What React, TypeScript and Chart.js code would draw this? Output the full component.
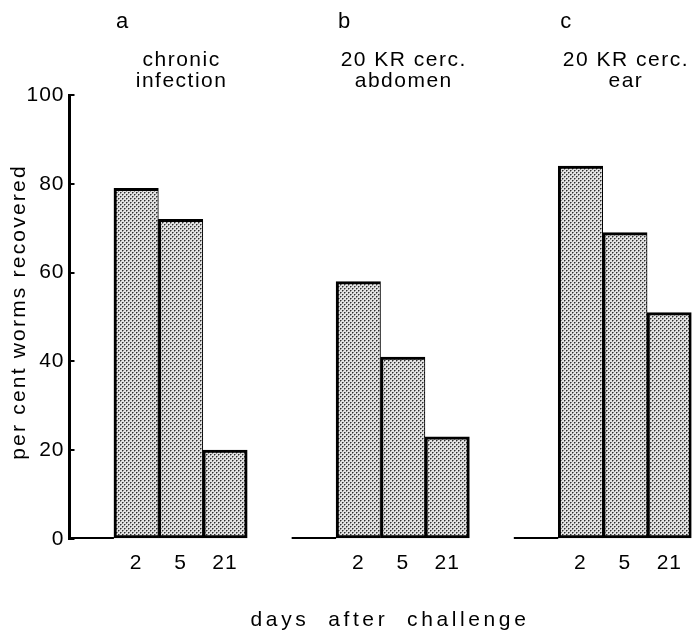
import { useEffect, useRef } from 'react';
import { Chart, registerables } from 'chart.js';

Chart.register(...registerables);

// ---- data ----
const dayLabels = ['2', '5', '21'];
const groupLetters = ['a', 'b', 'c'];
const groupTitles = [
  ['chronic', 'infection'],
  ['20 KR cerc.', 'abdomen'],
  ['20 KR cerc.', 'ear'],
];
const chronicInfection = [79, 72, 20];
const abdomen20KR = [58, 41, 23];
const ear20KR = [84, 69, 51];
const seriesByGroup = [chronicInfection, abdomen20KR, ear20KR];
const yTicks = [0, 20, 40, 60, 80, 100];
const yTitle = 'per cent worms recovered';
const xTitle = 'days  after  challenge';

// ---- layout (slot units on the x axis) ----
const GROUP_START = [1, 6, 11];
const X_MAX = 14;
const FONT = '"Liberation Sans", Arial, Helvetica, sans-serif';

export default function App() {
  const ref = useRef<HTMLCanvasElement>(null);

  useEffect(() => {
    const canvas = ref.current!;
    const tile = document.createElement('canvas');
    tile.width = 4;
    tile.height = 4;
    const t = tile.getContext('2d')!;
    t.fillStyle = '#e2e2e2';
    t.fillRect(0, 0, 4, 4);
    t.fillStyle = '#2e2e2e';
    t.fillRect(0, 0, 1, 1);
    t.fillRect(2, 2, 1, 1);
    t.fillStyle = '#8a8a8a';
    t.fillRect(1, 0, 1, 1);
    t.fillRect(3, 2, 1, 1);
    t.fillRect(0, 1, 1, 1);
    t.fillRect(2, 3, 1, 1);
    const pattern = canvas.getContext('2d')!.createPattern(tile, 'repeat')!;

    const barPoints = seriesByGroup.flatMap((vals, g) =>
      vals.map((v, i) => ({ x: GROUP_START[g] + 0.5 + i, y: v }))
    );
    const baselinePoints: any[] = GROUP_START.flatMap((s) => [
      { x: s - 1, y: 0 },
      { x: s, y: 0 },
      { x: s, y: null },
    ]);
    const xTickValues = GROUP_START.flatMap((s) => dayLabels.map((_, i) => s + 0.5 + i));

    const textPlugin = {
      id: 'annotText',
      beforeDraw(chart: any) {
        (chart.ctx as any).letterSpacing = '1px';
      },
      afterDraw(chart: any) {
        const c = chart.ctx as any;
        const xs = chart.scales.x;
        c.save();
        c.fillStyle = '#000';
        c.textBaseline = 'alphabetic';
        c.font = `22px ${FONT}`;
        c.letterSpacing = '0px';
        c.textAlign = 'left';
        GROUP_START.forEach((s, g) => {
          c.fillText(groupLetters[g], xs.getPixelForValue(s) + 2, 28);
        });
        c.font = `21px ${FONT}`;
        c.letterSpacing = '1.5px';
        c.textAlign = 'center';
        GROUP_START.forEach((s, g) => {
          const cx = xs.getPixelForValue(s + 1.5);
          groupTitles[g].forEach((line, k) => c.fillText(line, cx + 1, 66 + k * 21));
        });
        c.save();
        c.translate(25, 312);
        c.rotate(-Math.PI / 2);
        c.font = `21px ${FONT}`;
        c.letterSpacing = '2.2px';
        c.textAlign = 'center';
        c.fillText(yTitle, 0, 0);
        c.restore();
        c.font = `21px ${FONT}`;
        c.letterSpacing = '3.6px';
        c.textAlign = 'center';
        c.fillText(xTitle, 390, 626);
        c.restore();
      },
    };

    const chart = new Chart(canvas, {
      type: 'bar',
      data: {
        datasets: [
          {
            type: 'bar',
            data: barPoints as any,
            backgroundColor: pattern as any,
            borderColor: '#000',
            borderWidth: ((ctx: any) => ({
              top: 3,
              bottom: 3,
              left: 3,
              right: ctx.dataIndex % 3 === 2 ? 3 : 1,
            })) as any,
            borderSkipped: false,
            barPercentage: 1,
            categoryPercentage: 1,
            order: 1,
          } as any,
          {
            type: 'line',
            data: baselinePoints,
            borderColor: '#000',
            borderWidth: 4,
            pointRadius: 0,
            spanGaps: false,
            order: 0,
          } as any,
        ],
      },
      options: {
        animation: false,
        responsive: false,
        events: [],
        layout: { padding: { top: 95, left: 0, right: 0, bottom: 0 } },
        plugins: {
          legend: { display: false },
          tooltip: { enabled: false },
          title: { display: false },
        },
        scales: {
          x: {
            type: 'linear',
            min: 0,
            max: X_MAX,
            offset: false,
            grid: { display: false, drawTicks: false },
            border: { display: false },
            afterBuildTicks: (s: any) => {
              s.ticks = xTickValues.map((v) => ({ value: v }));
            },
            afterFit: (s: any) => {
              s.height = 96;
            },
            ticks: {
              autoSkip: false,
              maxRotation: 0,
              minRotation: 0,
              padding: 12,
              color: '#000',
              font: { family: FONT, size: 21 },
              callback: (_v: any, i: number) => dayLabels[i % dayLabels.length],
            },
          } as any,
          y: {
            type: 'linear',
            min: 0,
            max: 100,
            grid: {
              display: true,
              drawOnChartArea: false,
              drawTicks: true,
              tickLength: -5,
              color: '#000',
              lineWidth: 2,
            },
            border: { display: true, width: 3, color: '#000' },
            afterBuildTicks: (s: any) => {
              s.ticks = yTicks.map((v) => ({ value: v }));
            },
            afterFit: (s: any) => {
              s.width = 69.5;
            },
            ticks: {
              padding: 10,
              color: '#000',
              font: { family: FONT, size: 21 },
            },
          } as any,
        },
      },
      plugins: [textPlugin as any],
    });

    return () => chart.destroy();
  }, []);

  return (
    <div style={{ position: 'absolute', left: 0, top: 0, width: 693, height: 635, overflow: 'hidden', background: '#fff' }}>
      <canvas ref={ref} width={693} height={635} style={{ display: 'block' }} />
    </div>
  );
}
